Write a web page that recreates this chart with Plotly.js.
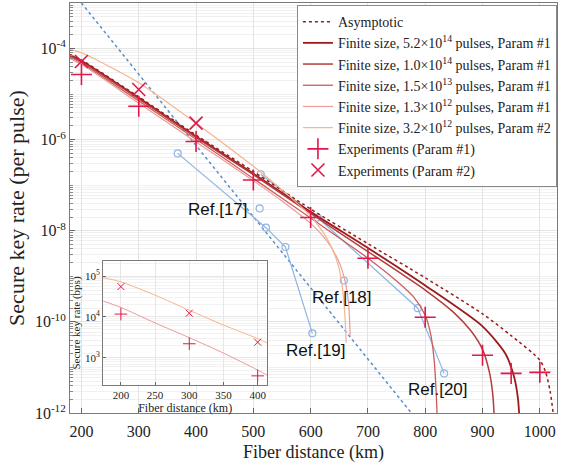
<!DOCTYPE html>
<html>
<head>
<meta charset="utf-8">
<script src="https://cdn.plot.ly/plotly-3.0.1.min.js"></script>
<style>html,body{margin:0;padding:0;background:#fff;}#chart{width:564px;height:468px;}</style>
</head>
<body>
<div id="chart"></div>
<script>
// ---- Data ----
const asymDist = [180, 200, 300, 400, 500, 600, 700, 800, 900, 950, 1000, 1010, 1018, 1024, 1028];
const asymRate = [7.4e-5, 5.6e-5, 8.7e-6, 1.26e-6, 2.0e-7, 3.0e-8, 5.2e-9, 9.3e-10, 1.5e-10, 5.0e-11, 1.45e-11, 8e-12, 3e-12, 8e-13, 1e-13];

const fs1Dist = [180, 200, 300, 400, 500, 600, 700, 800, 900, 940, 955, 962, 966];
const fs1Rate = [7.2e-5, 5.4e-5, 8.3e-6, 1.17e-6, 1.8e-7, 2.6e-8, 4.2e-9, 6.3e-10, 8.0e-11, 2.0e-11, 6.3e-12, 2.0e-12, 3e-13];

const fs2Dist = [180, 200, 300, 400, 500, 600, 700, 800, 850, 880, 900, 912, 918, 922];
const fs2Rate = [6.9e-5, 5.1e-5, 7.9e-6, 1.12e-6, 1.7e-7, 2.4e-8, 3.5e-9, 5.0e-10, 1.6e-10, 6.3e-11, 2.5e-11, 7.9e-12, 2.5e-12, 3e-13];

const fs3Dist = [180, 200, 300, 400, 500, 600, 700, 750, 780, 800, 810, 816, 820, 822];
const fs3Rate = [6.5e-5, 4.8e-5, 7.1e-6, 1.02e-6, 1.41e-7, 1.9e-8, 2.5e-9, 7.9e-10, 3.5e-10, 1.4e-10, 5.0e-11, 1.26e-11, 1.6e-12, 3e-13];

const fs4Dist = [180, 200, 300, 400, 500, 550, 600, 630, 650, 660, 666, 669];
const fs4Rate = [6.0e-5, 4.5e-5, 6.3e-6, 8.9e-7, 1.26e-7, 4.5e-8, 1.45e-8, 5.6e-9, 2.0e-9, 7.9e-10, 2.8e-10, 5.0e-11];

const fs5Dist = [180, 200, 300, 400, 500, 550, 600, 630, 648, 656, 660, 662];
const fs5Rate = [9.5e-5, 8.1e-5, 1.78e-5, 2.3e-6, 2.6e-7, 7.9e-8, 2.1e-8, 6.3e-9, 1.8e-9, 5.0e-10, 1.26e-10, 3.5e-11];

const exp1Dist = [200, 300, 400, 500, 600, 700, 800, 900, 950, 1000];
const exp1Rate = [2.7e-5, 5.4e-6, 9.1e-7, 1.3e-7, 1.95e-8, 2.5e-9, 1.26e-10, 1.85e-11, 7.4e-12, 7.8e-12];

const exp2Dist = [200, 300, 400];
const exp2Rate = [5.2e-5, 1.26e-5, 2.3e-6];

const plobDist = [180, 300, 400, 500, 600, 700, 790];
const plobRate = [2.05e-3, 2.74e-5, 7.5e-7, 2.05e-8, 5.6e-10, 1.54e-11, 6e-13];

const ref17Dist = [511];
const ref17Rate = [3.1e-8];
const ref18Dist = [658];
const ref18Rate = [8.1e-10];
const ref19Dist = [368, 522, 556, 603];
const ref19Rate = [5.0e-7, 1.17e-8, 4.4e-9, 5.6e-11];
const ref20Dist = [513, 612, 787, 833];
const ref20Rate = [1.74e-7, 1.95e-8, 2.0e-10, 7.4e-12];

// inset (bps)
const insetLineDist = [174, 200, 250, 300, 350, 400, 417];
const insetP2Line = [9.1e4, 7.2e4, 3.4e4, 1.45e4, 6.3e3, 2.95e3, 2.2e3];
const insetP1Line = [2.45e4, 1.7e4, 7.1e3, 3.1e3, 1.3e3, 5.0e2, 3.5e2];
const insetExpDist = [200, 300, 400];
const insetExp2 = [5.5e4, 1.23e4, 2.4e3];
const insetExp1 = [1.17e4, 2.2e3, 3.6e2];

const legendNames = [
  'Asymptotic',
  'Finite size, 5.2×10<sup>14</sup> pulses, Param #1',
  'Finite size, 1.0×10<sup>14</sup> pulses, Param #1',
  'Finite size, 1.5×10<sup>13</sup> pulses, Param #1',
  'Finite size, 1.3×10<sup>12</sup> pulses, Param #1',
  'Finite size, 3.2×10<sup>12</sup> pulses, Param #2',
  'Experiments (Param #1)',
  'Experiments (Param #2)'
];
const refLabels = ['Ref.[17]', 'Ref.[18]', 'Ref.[19]', 'Ref.[20]'];
const refLabelDist = [438, 655, 609, 823];
const refLabelRate = [2.9e-8, 3.5e-10, 2.4e-11, 3.2e-12];
const xTickVals = [200, 300, 400, 500, 600, 700, 800, 900, 1000];
const yTickVals = [1e-12, 1e-10, 1e-8, 1e-6, 1e-4];
const yTickText = ['10<sup>-12</sup>', '10<sup>-10</sup>', '10<sup>-8</sup>', '10<sup>-6</sup>', '10<sup>-4</sup>'];
const insetXTicks = [200, 250, 300, 350, 400];
const insetYTicks = [1e3, 1e4, 1e5];
const insetYText = ['10<sup>3</sup>', '10<sup>4</sup>', '10<sup>5</sup>'];

// minor grid positions for the main log axis (every 1..9 x decade)
const minorVals = [];
for (let d = -12; d <= -4; d++) {
  for (let m = 1; m <= 9; m++) {
    if (m === 1 && d % 2 === 0) continue;
    minorVals.push(m * Math.pow(10, d));
  }
}

// ---- Styles ----
const RED = '#e0184a';
const BLUE = '#8fb3e3';
const sp = {shape: 'spline', smoothing: 0.7};

const traces = [
  {x: plobDist, y: plobRate, mode: 'lines', line: {color: '#5a8fc8', width: 1.5, dash: 'dot'}, showlegend: false, hoverinfo: 'skip'},
  {x: ref19Dist, y: ref19Rate, mode: 'lines+markers', line: {color: BLUE, width: 1.2}, marker: {symbol: 'circle-open', size: 7, color: BLUE, line: {width: 1.2}}, showlegend: false},
  {x: ref20Dist, y: ref20Rate, mode: 'lines+markers', line: {color: BLUE, width: 1.2}, marker: {symbol: 'circle-open', size: 7, color: BLUE, line: {width: 1.2}}, showlegend: false},
  {x: ref17Dist, y: ref17Rate, mode: 'markers', marker: {symbol: 'circle-open', size: 7, color: BLUE, line: {width: 1.2}}, showlegend: false},
  {x: ref18Dist, y: ref18Rate, mode: 'markers', marker: {symbol: 'circle-open', size: 7, color: BLUE, line: {width: 1.2}}, showlegend: false},
  {x: asymDist, y: asymRate, mode: 'lines', name: legendNames[0], line: Object.assign({color: '#9b1b1b', width: 1.5, dash: '3px,3px'}, sp)},
  {x: fs1Dist, y: fs1Rate, mode: 'lines', name: legendNames[1], line: Object.assign({color: '#9b1b1b', width: 1.8}, sp)},
  {x: fs2Dist, y: fs2Rate, mode: 'lines', name: legendNames[2], line: Object.assign({color: '#b43c3c', width: 1.5}, sp)},
  {x: fs3Dist, y: fs3Rate, mode: 'lines', name: legendNames[3], line: Object.assign({color: '#cc5c5c', width: 1.3}, sp)},
  {x: fs4Dist, y: fs4Rate, mode: 'lines', name: legendNames[4], line: Object.assign({color: '#ec9a9a', width: 1.2}, sp)},
  {x: fs5Dist, y: fs5Rate, mode: 'lines', name: legendNames[5], line: Object.assign({color: '#f4b48c', width: 1.2}, sp)},
  {x: exp1Dist, y: exp1Rate, mode: 'markers', name: legendNames[6], marker: {symbol: 'cross-thin-open', size: 15, color: RED, line: {width: 1.6, color: RED}}},
  {x: exp2Dist, y: exp2Rate, mode: 'markers', name: legendNames[7], marker: {symbol: 'x-thin-open', size: 13, color: RED, line: {width: 1.6, color: RED}}},
  // inset
  {x: insetLineDist, y: insetP2Line, xaxis: 'x2', yaxis: 'y2', mode: 'lines', line: Object.assign({color: '#f4b48c', width: 1}, sp), showlegend: false},
  {x: insetLineDist, y: insetP1Line, xaxis: 'x2', yaxis: 'y2', mode: 'lines', line: Object.assign({color: '#ec9a9a', width: 1}, sp), showlegend: false},
  {x: insetExpDist, y: insetExp2, xaxis: 'x2', yaxis: 'y2', mode: 'markers', marker: {symbol: 'x-thin-open', size: 7, color: RED, line: {width: 1, color: RED}}, showlegend: false},
  {x: insetExpDist, y: insetExp1, xaxis: 'x2', yaxis: 'y2', mode: 'markers', marker: {symbol: 'cross-thin-open', size: 9, color: RED, line: {width: 1, color: RED}}, showlegend: false}
];

const SERIF = 'Liberation Serif, Times New Roman, serif';
const SANS = 'Liberation Sans, Arial, sans-serif';

const XR = [180, 1030], YR = [-12, -3];
const insetDomX = [0.068, 0.405], insetDomY = [0.068, 0.371];

const layout = {
  width: 564, height: 468,
  margin: {l: 70, r: 7, t: 3, b: 55},
  paper_bgcolor: '#ffffff', plot_bgcolor: '#ffffff',
  font: {family: SERIF, size: 16, color: '#222'},
  showlegend: true,
  xaxis: {
    range: XR, tickvals: xTickVals, ticks: 'inside', ticklen: 5, tickcolor: '#666',
    showgrid: true, gridcolor: '#e3e3e3', zeroline: false,
    showline: true, linecolor: '#7a7a7a', linewidth: 1, mirror: true, automargin: false,
    ticklabelstandoff: 4,
    tickfont: {size: 16}, title: {text: 'Fiber distance (km)', font: {size: 18}, standoff: 6}
  },
  yaxis: {
    type: 'log', range: YR, tickvals: yTickVals, ticktext: yTickText,
    ticks: 'inside', ticklen: 5, tickcolor: '#666',
    showgrid: true, gridcolor: '#e3e3e3', zeroline: false,
    showline: true, linecolor: '#7a7a7a', linewidth: 1, mirror: true, automargin: false,
    minor: {tickvals: minorVals, showgrid: true, gridcolor: '#f0f0f0', ticks: 'inside', ticklen: 3, tickcolor: '#888'},
    tickfont: {size: 16}, title: {text: 'Secure key rate (per pulse)', font: {size: 22}, standoff: 4}
  },
  xaxis2: {
    domain: insetDomX, anchor: 'y2', range: [174, 414], tickvals: insetXTicks,
    ticks: 'inside', ticklen: 3, tickcolor: '#666', showgrid: true, gridcolor: '#e6e6e6', zeroline: false,
    showline: true, linecolor: '#7a7a7a', mirror: true, automargin: false,
    tickfont: {size: 11}, title: {text: 'Fiber distance (km)', font: {size: 12}, standoff: 2}
  },
  yaxis2: {
    domain: insetDomY, anchor: 'x2', type: 'log', range: [2.33, 5.37], tickvals: insetYTicks, ticktext: insetYText,
    ticks: 'inside', ticklen: 3, tickcolor: '#666', showgrid: true, gridcolor: '#e6e6e6', zeroline: false,
    showline: true, linecolor: '#7a7a7a', mirror: true, automargin: false,
    minor: {dtick: 'D1', showgrid: true, gridcolor: '#f2f2f2'},
    tickfont: {size: 11}, title: {text: 'Secure key rate (bps)', font: {size: 11}, standoff: 2}
  },
  legend: {
    x: 0.466, y: 0.995, xanchor: 'left', yanchor: 'top',
    bgcolor: '#ffffff', bordercolor: '#8a8a8a', borderwidth: 1,
    font: {family: SERIF, size: 14, color: '#222'},
    itemwidth: 30, tracegroupgap: 0
  },
  shapes: [
    {type: 'rect', xref: 'x', yref: 'y',
     x0: XR[0] + insetDomX[0] * (XR[1] - XR[0]), x1: XR[0] + insetDomX[1] * (XR[1] - XR[0]),
     y0: YR[0] + insetDomY[0] * (YR[1] - YR[0]), y1: YR[0] + insetDomY[1] * (YR[1] - YR[0]),
     fillcolor: '#ffffff', line: {width: 0}, layer: 'between'}
  ],
  annotations: refLabels.map((t, i) => ({
    x: refLabelDist[i], y: Math.log10(refLabelRate[i]), text: t, showarrow: false,
    font: {family: SANS, size: 17, color: '#111'}
  }))
};

Plotly.newPlot('chart', traces, layout, {staticPlot: true, displayModeBar: false});
</script>
</body>
</html>
